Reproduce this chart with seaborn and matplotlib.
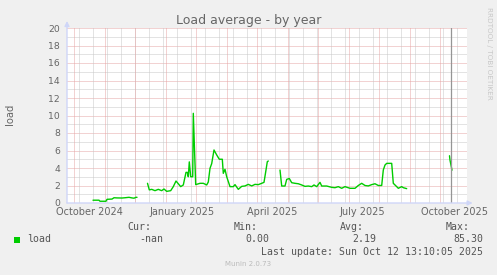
import numpy as np
import pandas as pd
import matplotlib
matplotlib.use("Agg")
import matplotlib.pyplot as plt
from matplotlib.patches import Rectangle
import seaborn as sns

# ---------------- data ----------------
start = pd.Timestamp("2024-09-08 07:12")   # left edge of the 400-day window
span_days = 400

# days since window start, load values (each list = one contiguous run of data)
seg1_days = [26, 32, 33, 39, 40, 45, 47, 50, 55, 58, 62, 65, 67, 69, 70]
seg1_load = [0.32, 0.32, 0.2, 0.2, 0.42, 0.45, 0.6, 0.58, 0.57, 0.6, 0.65, 0.58, 0.55, 0.65, 0.65]

seg2_days = [80.5, 82.3, 84.7, 88, 91.3, 94.7, 97, 99.7, 103.7, 106.3, 109, 111.3, 113.7, 116.3,
             119, 120.3, 121.3, 122.3, 123.7, 125.7, 126.3, 128.7, 133, 136.3, 139.7, 141.3,
             143, 144.7, 147, 149.7, 152.3, 155.3, 156.3, 158, 159.7, 163, 166.3, 168, 171.3,
             174.7, 178, 181.3, 184.7, 188, 191.3, 194.7, 197, 199, 200.3, 201.3]
seg2_load = [2.25, 1.5, 1.56, 1.41, 1.56, 1.41, 1.6, 1.33, 1.41, 1.87, 2.51, 2.2, 1.87, 2.06,
             3.5, 3.5, 3.0, 4.7, 3.0, 3.0, 10.25, 2.1, 2.25, 2.25, 2.06, 2.4,
             3.96, 4.5, 6.06, 5.49, 5.0, 5.0, 3.39, 3.85, 3.0, 1.87, 1.87, 2.1, 1.56,
             1.9, 1.95, 2.13, 1.95, 2.13, 2.1, 2.25, 2.36, 3.77, 4.72, 4.8]

seg3_days = [213, 214.7, 218, 219.7, 222.3, 224.7, 228, 231.3, 234.7, 238, 241.3, 244.7, 247,
             249.7, 253, 254.7, 259.7, 264.7, 268, 271.3, 274.7, 278, 283, 288, 291.3, 294.7,
             298, 301.3, 304.7, 308, 311.3, 314.7, 316.3, 318, 319.7, 324.7, 326.3, 329.7,
             331.3, 334.7, 336.3, 339.7]
seg3_load = [3.77, 1.94, 1.94, 2.7, 2.8, 2.32, 2.25, 2.2, 2.06, 1.9, 1.94, 1.87, 2.06,
             1.87, 2.36, 1.94, 1.94, 1.79, 1.75, 1.87, 1.68, 1.87, 1.68, 1.68, 2.0, 2.25,
             2.0, 1.95, 2.1, 2.2, 2.0, 2.0, 3.77, 4.34, 4.53, 4.53, 2.25, 1.87,
             1.68, 1.87, 1.75, 1.64]

seg4_days = [382.5, 383, 385]
seg4_load = [5.4, 4.9, 3.75]

vrule_day = 384.3

tick_dates = ["2024-10-01", "2025-01-01", "2025-04-01", "2025-07-01", "2025-10-01"]
tick_labels = ["October 2024", "January 2025", "April 2025", "July 2025", "October 2025"]

legend_name = "load"
cur_val, min_val, avg_val, max_val = "-nan", "0.00", "2.19", "85.30"
last_update = "Last update: Sun Oct 12 13:10:05 2025"

# ---------------- build frame ----------------
frames = []
for i, (d, v) in enumerate([(seg1_days, seg1_load), (seg2_days, seg2_load),
                            (seg3_days, seg3_load), (seg4_days, seg4_load)]):
    frames.append(pd.DataFrame({
        "date": start + pd.to_timedelta(np.array(d, dtype=float), unit="D"),
        "load": v,
        "seg": i,
    }))
df = pd.concat(frames, ignore_index=True)

# ---------------- style ----------------
sns.set_style("white")
plt.rcParams["font.family"] = ["DejaVu Sans"]
plt.rcParams["lines.scale_dashes"] = False
FONT = "#666666"
GREEN = "#00CC00"
AXISC = "#CFD6F8"
MGRID = "#E6A6A6"
GRID = "#C8C8C8"

W, H = 497, 275
fig = plt.figure(figsize=(W / 100, H / 100), dpi=100, facecolor="#F0F0F0")
ax_left, ax_right, ax_top, ax_bot = 67, 467, 28, 203
ax = fig.add_axes([ax_left / W, 1 - ax_bot / H, (ax_right - ax_left) / W, (ax_bot - ax_top) / H])
ax.set_facecolor("#FFFFFF")

end = start + pd.Timedelta(days=span_days)
ax.set_xlim(start, end)
ax.set_ylim(0, 20)

# grid (1px dots, 1px gaps)
dot = (0, (0.72, 0.72))
for y in range(1, 21):
    col = MGRID if y % 2 == 0 else GRID
    ax.axhline(y, color=col, lw=0.72, ls=dot, zorder=1)
for d in np.arange(12.3, span_days, 14.0):
    ax.axvline(start + pd.Timedelta(days=float(d)), color=GRID, lw=0.72, ls=dot, zorder=1)
for d in np.arange(7.0, span_days, 30.5):
    ax.axvline(start + pd.Timedelta(days=float(d)), color=MGRID, lw=0.72, ls=dot, zorder=1.5)

# data
sns.lineplot(data=df, x="date", y="load", units="seg", estimator=None,
             color=GREEN, lw=1.0, ax=ax, zorder=3)
ax.axvline(start + pd.Timedelta(days=vrule_day), color="#959595", lw=0.9, zorder=4)

# axes cosmetics
for s in ax.spines.values():
    s.set_visible(False)
ax.set_xlabel("")
ax.set_ylabel("")
ax.set_xticks(pd.to_datetime(tick_dates))
ax.set_xticklabels(tick_labels)
ax.set_yticks(range(0, 21, 2))
ax.set_yticklabels([str(v) for v in range(0, 21, 2)])
ax.tick_params(axis="x", length=0, pad=3.2, labelsize=7, labelcolor=FONT)
ax.tick_params(axis="y", length=0, pad=5.0, labelsize=6.7, labelcolor=FONT)

# axis lines with arrows
ax.annotate("", xy=(0, 1.04), xytext=(0, 0), xycoords="axes fraction",
            arrowprops=dict(arrowstyle="-|>", color=AXISC, lw=1.0, mutation_scale=7,
                            shrinkA=0, shrinkB=0), zorder=5, annotation_clip=False)
ax.annotate("", xy=(1.014, 0), xytext=(0, 0), xycoords="axes fraction",
            arrowprops=dict(arrowstyle="-|>", color=AXISC, lw=1.0, mutation_scale=7,
                            shrinkA=0, shrinkB=0), zorder=5, annotation_clip=False)


def ftext(x, y, s, ha="left", va="center", **kw):
    fig.text(x / W, 1 - y / H, s, ha=ha, va=va, **kw)


ftext(249, 24, "Load average - by year", ha="center", va="baseline", fontsize=9, color=FONT)
ftext(10.5, 114, "load", ha="center", rotation=90, fontsize=7.2, color=FONT)
ftext(488.5, 53.5, "RRDTOOL / TOBI OETIKER", ha="center", rotation=270, fontsize=5.2,
      color="#C8C8C8")

mono = dict(family="DejaVu Sans Mono", fontsize=7.15, color="#555555")
fig.patches.append(Rectangle((14 / W, 1 - 243 / H), 6 / W, 6 / H, transform=fig.transFigure,
                             facecolor=GREEN, edgecolor="none"))
ftext(26.7, 239.5, legend_name, **mono)
ftext(151, 227.5, "Cur:", ha="right", **mono)
ftext(163, 239.5, cur_val, ha="right", **mono)
ftext(257.5, 227.5, "Min:", ha="right", **mono)
ftext(269.5, 239.5, min_val, ha="right", **mono)
ftext(363.5, 227.5, "Avg:", ha="right", **mono)
ftext(376, 239.5, avg_val, ha="right", **mono)
ftext(470, 227.5, "Max:", ha="right", **mono)
ftext(483, 239.5, max_val, ha="right", **mono)
ftext(483, 252, last_update, ha="right", **mono)
ftext(248, 263.5, "Munin 2.0.73", ha="center", fontsize=5.0, color="#BBBBBB")

fig.savefig("out.png", dpi=100, facecolor=fig.get_facecolor())
